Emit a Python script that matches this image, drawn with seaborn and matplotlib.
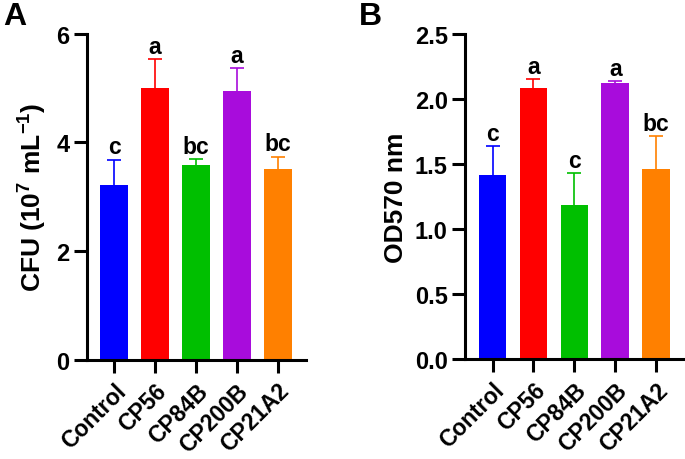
import matplotlib
matplotlib.use("Agg")
import matplotlib.pyplot as plt
import seaborn as sns
import pandas as pd

groups = ["Control", "CP56", "CP84B", "CP200B", "CP21A2"]
colors = ["#0000FF", "#FF0000", "#00BF00", "#A80CDC", "#FF8000"]

cfu_mean = [3.22, 4.99, 3.59, 4.94, 3.51]
cfu_err = [0.46, 0.54, 0.10, 0.42, 0.23]
cfu_letters = ["c", "a", "bc", "a", "bc"]

od_mean = [1.41, 2.08, 1.18, 2.12, 1.46]
od_err = [0.225, 0.07, 0.25, 0.015, 0.25]
od_letters = ["c", "a", "c", "a", "bc"]

sns.set_style("ticks")
plt.rcParams["font.family"] = ["Liberation Sans", "DejaVu Sans"]
plt.rcParams["font.weight"] = "bold"
plt.rcParams["mathtext.default"] = "regular"
plt.rcParams["text.color"] = "black"
plt.rcParams["axes.labelcolor"] = "black"
plt.rcParams["xtick.color"] = "black"
plt.rcParams["ytick.color"] = "black"
plt.rcParams["axes.edgecolor"] = "black"

fig = plt.figure(figsize=(6.85, 4.6), dpi=100)
axA = fig.add_axes([0.127, 0.215, 0.32, 0.71])
axB = fig.add_axes([0.679, 0.217, 0.321, 0.708])


def panel(ax, means, errs, letters, ylim, yticks, fmt, ylabel):
    df = pd.DataFrame({"group": groups, "value": means})
    sns.barplot(data=df, x="group", y="value", hue="group", palette=colors,
                legend=False, width=0.68, ax=ax, edgecolor="none",
                errorbar=None, saturation=1, zorder=2)
    for i in range(len(groups)):
        eb = ax.errorbar(i, means[i], yerr=[[0], [errs[i]]], color=colors[i],
                         capsize=5, elinewidth=1.2, capthick=1.2, zorder=1)
        eb[1][0].set_visible(False)
        ax.annotate(letters[i], (i, means[i] + errs[i]), xytext=(0, 1),
                    textcoords="offset points", ha="center", va="bottom",
                    fontsize=16.5, fontweight="bold")
    ax.set_xlim(-0.67, 4.7)
    ax.set_ylim(*ylim)
    ax.set_yticks(yticks)
    ax.set_yticklabels([fmt.format(t) for t in yticks])
    ax.set_xlabel("")
    ax.set_ylabel(ylabel, fontsize=19, fontweight="bold", labelpad=5)
    sns.despine(ax=ax)
    for s in ["left", "bottom"]:
        ax.spines[s].set_linewidth(2.2)
    ax.tick_params(axis="y", width=2.2, length=9.5, labelsize=17, pad=3)
    ax.tick_params(axis="x", width=2.2, length=9.5, labelsize=16.5, pad=4)
    plt.setp(ax.get_xticklabels(), rotation=45, ha="right", va="top",
             rotation_mode="anchor", fontweight="bold")
    plt.setp(ax.get_yticklabels(), fontweight="bold")
    ax.spines["left"].set_clip_on(False)
    ax.spines["bottom"].set_clip_on(False)


panel(axA, cfu_mean, cfu_err, cfu_letters, (0, 6), [0, 2, 4, 6], "{:.0f}",
      "CFU (10$^{7}$ mL$^{-1}$)")
panel(axB, od_mean, od_err, od_letters, (0, 2.5), [0, 0.5, 1.0, 1.5, 2.0, 2.5],
      "{:.1f}", "OD570 nm")

fig.text(0.004, 0.995, "A", fontsize=23, fontweight="bold", va="top", ha="left")
fig.text(0.524, 0.995, "B", fontsize=23, fontweight="bold", va="top", ha="left")

fig.savefig("out.png", dpi=100)
